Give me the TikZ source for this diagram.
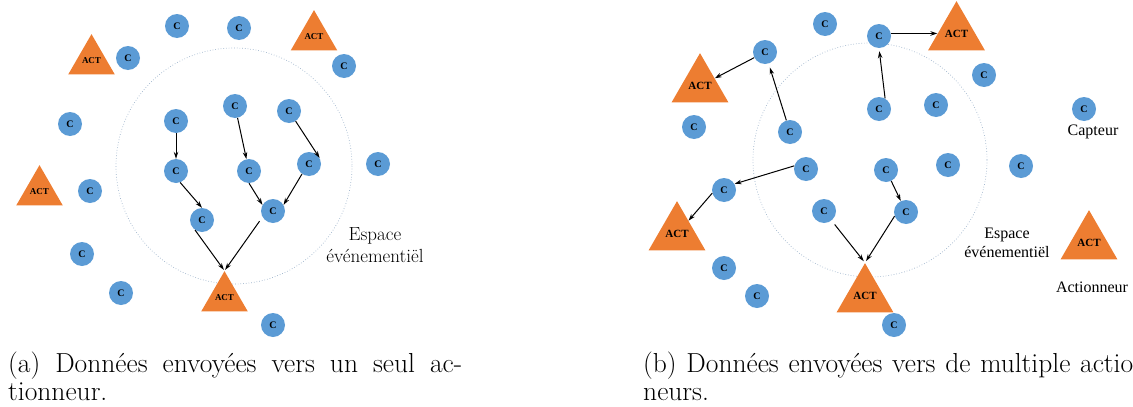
\documentclass[tikz,border=0pt]{standalone}
\usepackage{fontspec}
\newfontfamily\tnr{Liberation Serif}
\usetikzlibrary{shapes.geometric,arrows.meta}
\definecolor{cblue}{HTML}{5B9BD5}
\definecolor{corange}{HTML}{ED7D31}
\definecolor{zonecol}{HTML}{9DB3CB}
\tikzset{
  capt/.style={circle, fill=cblue, minimum size=24pt, inner sep=0pt,
    font=\tnr\bfseries\fontsize{10}{10}\selectfont},
  actA/.style={regular polygon, regular polygon sides=3, fill=corange,
    minimum size=42.7pt, inner sep=0pt, font=\tnr\bfseries\fontsize{9}{9}\selectfont},
  actB/.style={regular polygon, regular polygon sides=3, fill=corange,
    minimum size=53pt, inner sep=0pt, font=\tnr\bfseries\fontsize{11}{11}\selectfont},
  arr/.style={-{Stealth[length=7pt,width=4.5pt]}, line width=1pt, black},
  zone/.style={draw=zonecol, dotted, line width=0.7pt},
  lmtext/.style={inner sep=0pt, font=\fontsize{19}{22}\selectfont},
  tntext/.style={inner sep=0pt, font=\tnr\fontsize{16}{19}\selectfont},
  captext/.style={inner sep=0pt, anchor=base west, font=\fontsize{27.5}{30}\selectfont}
}
\begin{document}
\begin{tikzpicture}[x=1pt,y=-1pt]
\useasboundingbox (0,0) rectangle (1133,407);

% ---------------- (a) ----------------
\draw[zone] (234,166) circle[radius=118];

\node[capt] (c1) at (177,26) {C};
\node[capt] (c2) at (239,28) {C};
\node[capt] (c3) at (128,58) {C};
\node[capt] (c4) at (344,66) {C};
\node[capt] (c5) at (70,124) {C};
\node[capt] (c6) at (176,121) {C};
\node[capt] (c7) at (235,106) {C};
\node[capt] (c8) at (289,111) {C};
\node[capt] (c9) at (176,171) {C};
\node[capt] (c10) at (249,171) {C};
\node[capt] (c11) at (309,164) {C};
\node[capt] (c12) at (378,164) {C};
\node[capt] (c13) at (90,191) {C};
\node[capt] (c14) at (202,220) {C};
\node[capt] (c15) at (273,211) {C};
\node[capt] (c16) at (82,254) {C};
\node[capt] (c17) at (121,293) {C};
\node[capt] (c18) at (273,325) {C};

\node[actA] (ta1) at (91.5,61) {ACT};
\node[actA] (ta2) at (314,37) {ACT};
\node[actA] (ta3) at (39.5,192) {ACT};
\node[actA] (ta4) at (224.5,298) {ACT};

\draw[arr] (c6) -- (c9);
\draw[arr] (c7) -- (c10);
\draw[arr] (c8) -- (c11.30);
\draw[arr] (c9.-70) -- (c14.north);
\draw[arr] (c10.south) -- (c15.150);
\draw[arr] (c11.235) -- (c15.30);
\draw[arr,shorten >=1pt] (c14.235) -- (ta4.corner 1);
\draw[arr,shorten <=5pt,shorten >=1pt] (c15.210) -- (ta4.corner 1);

\node[lmtext, anchor=base] (esp1) at (375,240) {Espace};
\node[lmtext, anchor=base] (esp2) at (375,262) {événementiël};

% ---------------- (b) ----------------
\draw[zone] (870,160) circle[radius=117];

\node[capt] (r1) at (825,24) {C};
\node[capt] (r2) at (879,36) {C};
\node[capt] (r3) at (765,52) {C};
\node[capt] (r4) at (984,75) {C};
\node[capt] (r5) at (879,109) {C};
\node[capt] (r6) at (936,105) {C};
\node[capt] (r7) at (694,127) {C};
\node[capt] (r8) at (790,132) {C};
\node[capt] (r9) at (1084,109) {C};
\node[capt] (r10) at (806,169) {C};
\node[capt] (r11) at (886,170) {C};
\node[capt] (r12) at (948,165) {C};
\node[capt] (r13) at (1021,166) {C};
\node[capt] (r14) at (724,190) {C};
\node[capt] (r15) at (824,211) {C};
\node[capt] (r16) at (906,212) {C};
\node[capt] (r17) at (724,268) {C};
\node[capt] (r18) at (757,296) {C};
\node[capt] (r19) at (894,325) {C};

\node[actB] (tb1) at (700,86) {ACT};
\node[actB] (tb2) at (956.5,34) {ACT};
\node[actB] (tb3) at (677,234) {ACT};
\node[actB] (tb4) at (865,296) {ACT};
\node[actB] (tb5) at (1089,243) {ACT};

\draw[arr] (r2.12) -- (r2.12 -| tb2.west);
\draw[arr] (r3) -- (tb1);
\draw[arr,shorten >=4pt] (r8) -- (r3);
\draw[arr,shorten >=3pt] (r5.60) -- (r2.south);
\draw[arr] (r10.165) -- (r14.30);
\draw[arr] (r14.195) -- (tb3);
\draw[arr] (r11) -- (r16);
\draw[arr,shorten <=5pt,shorten >=2pt] (r15) -- (tb4.corner 1);
\draw[arr,shorten >=2pt] (r16.200) -- (tb4.corner 1);

\node[tntext, anchor=base] (espb1) at (1007,238) {Espace};
\node[tntext, anchor=base] (espb2) at (1007,257) {événementiël};
\node[tntext, anchor=base] (lcap) at (1093,135) {Capteur};
\node[tntext, anchor=base] (lact) at (1092,292) {Actionneur};

% ---------------- captions ----------------
\node[captext] (capa1) at (8,372) {\makebox[454pt][s]{(a) Données envoyées vers un seul ac-}};
\node[captext] (capa2) at (8,400) {tionneur.};
\node[captext] (capb1) at (643,372) {\makebox[490pt][s]{(b) Données envoyées vers de multiple actio}};
\node[captext] (capb2) at (643,400) {neurs.};
\end{tikzpicture}
\end{document}
